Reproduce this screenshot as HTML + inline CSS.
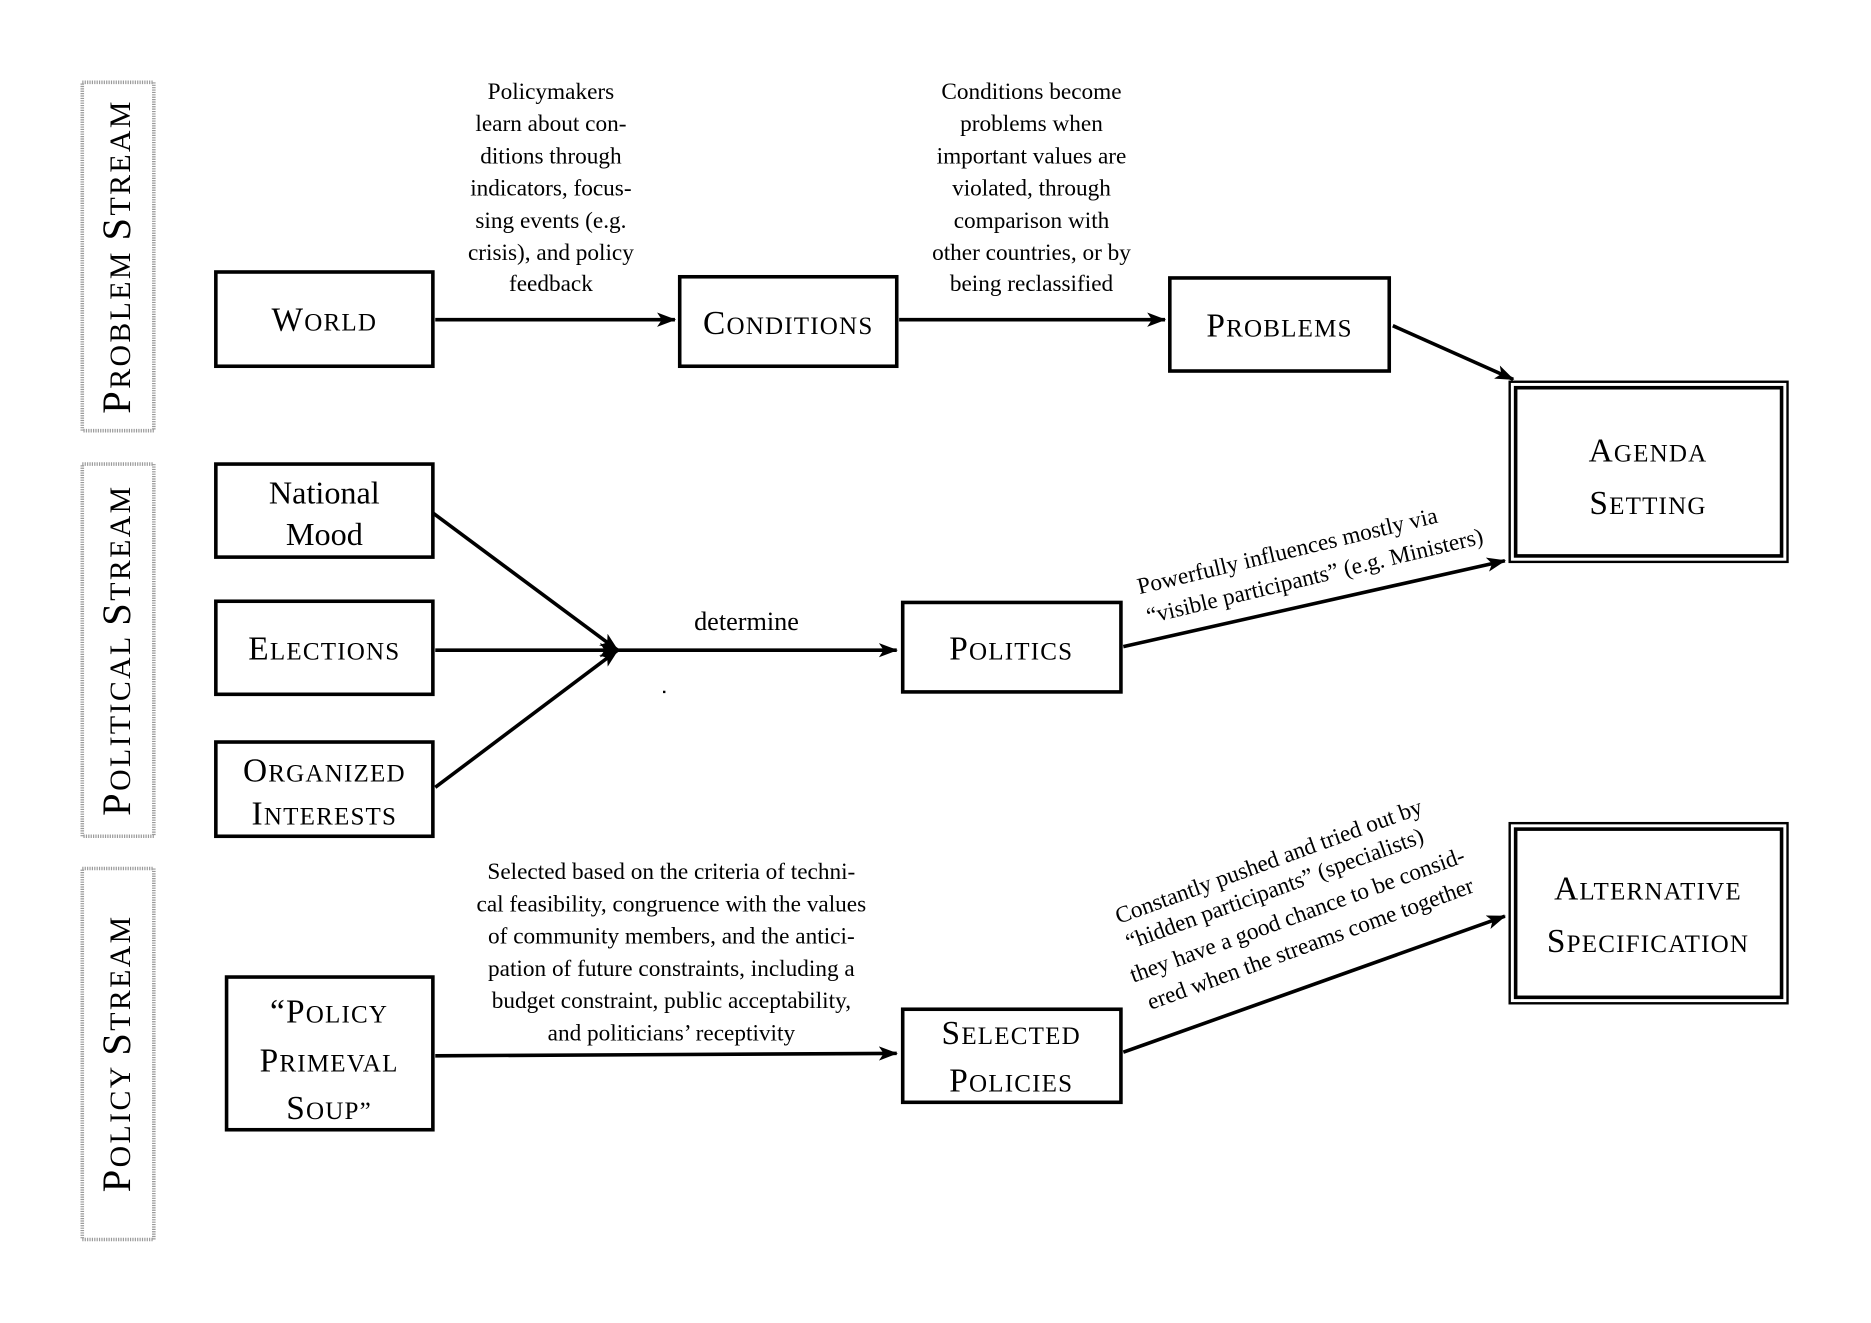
<!DOCTYPE html>
<html><head><meta charset="utf-8"><style>
html,body{margin:0;padding:0;background:#fff;}
svg{display:block;}
text{font-family:"Liberation Serif",serif;fill:#000;}
</style></head><body>
<svg width="1871" height="1323" viewBox="0 0 1569 1109" preserveAspectRatio="none" xmlns="http://www.w3.org/2000/svg">
<defs>
<marker id="a" markerWidth="16" markerHeight="12" refX="15" refY="6" orient="auto" markerUnits="userSpaceOnUse">
<path d="M0,0 L16,6 L0,12 L4,6 Z" fill="#000"/>
</marker>
</defs>
<g fill="none" stroke="#999" stroke-width="3" stroke-dasharray="1,1">
<rect x="69" y="69" width="60" height="292"/>
<rect x="69" y="389" width="60" height="312"/>
<rect x="69" y="728" width="60" height="311"/>
</g>
<g font-size="25" text-anchor="middle" letter-spacing="2">
<text transform="translate(109,215) rotate(-90)"><tspan font-size="34">P</tspan>ROBLEM <tspan font-size="34">S</tspan>TREAM</text>
<text transform="translate(109,545) rotate(-90)"><tspan font-size="34">P</tspan>OLITICAL  <tspan font-size="34">S</tspan>TREAM</text>
<text transform="translate(109,883) rotate(-90)"><tspan font-size="34">P</tspan>OLICY  <tspan font-size="34">S</tspan>TREAM</text>
</g>
<g fill="none" stroke="#000" stroke-width="3">
<rect x="181" y="228" width="182" height="79"/>
<rect x="570" y="232" width="182" height="75"/>
<rect x="981" y="233" width="184" height="78"/>
<rect x="181" y="389" width="182" height="78"/>
<rect x="181" y="504" width="182" height="78"/>
<rect x="181" y="622" width="182" height="79"/>
<rect x="757" y="505" width="183" height="75"/>
<rect x="190" y="819" width="173" height="128"/>
<rect x="757" y="846" width="183" height="78"/>
</g>
<g fill="none" stroke="#000">
<rect x="1266" y="320" width="233" height="151" stroke-width="2"/>
<rect x="1271" y="325" width="223" height="141" stroke-width="3"/>
<rect x="1266" y="690" width="233" height="151" stroke-width="2"/>
<rect x="1271" y="695" width="223" height="141" stroke-width="3"/>
</g>
<g font-size="21" text-anchor="middle" letter-spacing="1">
<text x="272" y="277"><tspan font-size="28">W</tspan>ORLD</text>
<text x="661" y="280"><tspan font-size="28">C</tspan>ONDITIONS</text>
<text x="1073" y="282"><tspan font-size="28">P</tspan>ROBLEMS</text>
<text x="1382" y="387"><tspan font-size="28">A</tspan>GENDA</text>
<text x="1382" y="431"><tspan font-size="28">S</tspan>ETTING</text>
<text x="272" y="553"><tspan font-size="28">E</tspan>LECTIONS</text>
<text x="272" y="655"><tspan font-size="28">O</tspan>RGANIZED</text>
<text x="272" y="691"><tspan font-size="28">I</tspan>NTERESTS</text>
<text x="848" y="553"><tspan font-size="28">P</tspan>OLITICS</text>
<text x="276" y="857"><tspan font-size="28">“P</tspan>OLICY</text>
<text x="276" y="898"><tspan font-size="28">P</tspan>RIMEVAL</text>
<text x="276" y="938"><tspan font-size="28">S</tspan>OUP”</text>
<text x="848" y="875"><tspan font-size="28">S</tspan>ELECTED</text>
<text x="848" y="915"><tspan font-size="28">P</tspan>OLICIES</text>
<text x="1382" y="754"><tspan font-size="28">A</tspan>LTERNATIVE</text>
<text x="1382" y="798"><tspan font-size="28">S</tspan>PECIFICATION</text>
</g>
<g font-size="27" text-anchor="middle">
<text x="272" y="422">National</text>
<text x="272" y="457">Mood</text>
</g>
<g stroke="#000" stroke-width="3" fill="none">
<line x1="365" y1="268" x2="566" y2="268" marker-end="url(#a)"/>
<line x1="754" y1="268" x2="977" y2="268" marker-end="url(#a)"/>
<line x1="1168" y1="273" x2="1269" y2="318" marker-end="url(#a)"/>
<line x1="363" y1="430" x2="518" y2="545" marker-end="url(#a)"/>
<line x1="365" y1="545" x2="518" y2="545" marker-end="url(#a)"/>
<line x1="365" y1="660" x2="518" y2="545" marker-end="url(#a)"/>
<line x1="518" y1="545" x2="752" y2="545" marker-end="url(#a)"/>
<line x1="942" y1="542" x2="1262" y2="470" marker-end="url(#a)"/>
<line x1="365" y1="885" x2="752" y2="883" marker-end="url(#a)"/>
<line x1="942" y1="882" x2="1262" y2="768" marker-end="url(#a)"/>
</g>
<rect x="556" y="579" width="2" height="2" fill="#000"/>
<g font-size="19.5" text-anchor="middle">
<text x="462" y="83">Policymakers</text>
<text x="462" y="110">learn about con-</text>
<text x="462" y="137">ditions through</text>
<text x="462" y="164">indicators, focus-</text>
<text x="462" y="191">sing events (e.g.</text>
<text x="462" y="218">crisis), and policy</text>
<text x="462" y="244">feedback</text>
<text x="865" y="83">Conditions become</text>
<text x="865" y="110">problems when</text>
<text x="865" y="137">important values are</text>
<text x="865" y="164">violated, through</text>
<text x="865" y="191">comparison with</text>
<text x="865" y="218">other countries, or by</text>
<text x="865" y="244">being reclassified</text>
<text x="626" y="528" font-size="22">determine</text>
<text x="563" y="737">Selected based on the criteria of techni-</text>
<text x="563" y="764">cal feasibility, congruence with the values</text>
<text x="563" y="791">of community members, and the antici-</text>
<text x="563" y="818">pation of future constraints, including a</text>
<text x="563" y="845">budget constraint, public acceptability,</text>
<text x="563" y="872">and politicians’ receptivity</text>
<text transform="translate(1081,468) rotate(-13.5)">Powerfully influences mostly via</text>
<text transform="translate(1104,489) rotate(-13.5)">“visible participants” (e.g. Ministers)</text>
<text transform="translate(1066,728) rotate(-20)">Constantly pushed and tried out by</text>
<text transform="translate(1071,751) rotate(-20)">“hidden participants” (specialists)</text>
<text transform="translate(1090,773) rotate(-20)">they have a good chance to be consid-</text>
<text transform="translate(1101,797) rotate(-20)">ered when the streams come together</text>
</g>
</svg>
</body></html>
